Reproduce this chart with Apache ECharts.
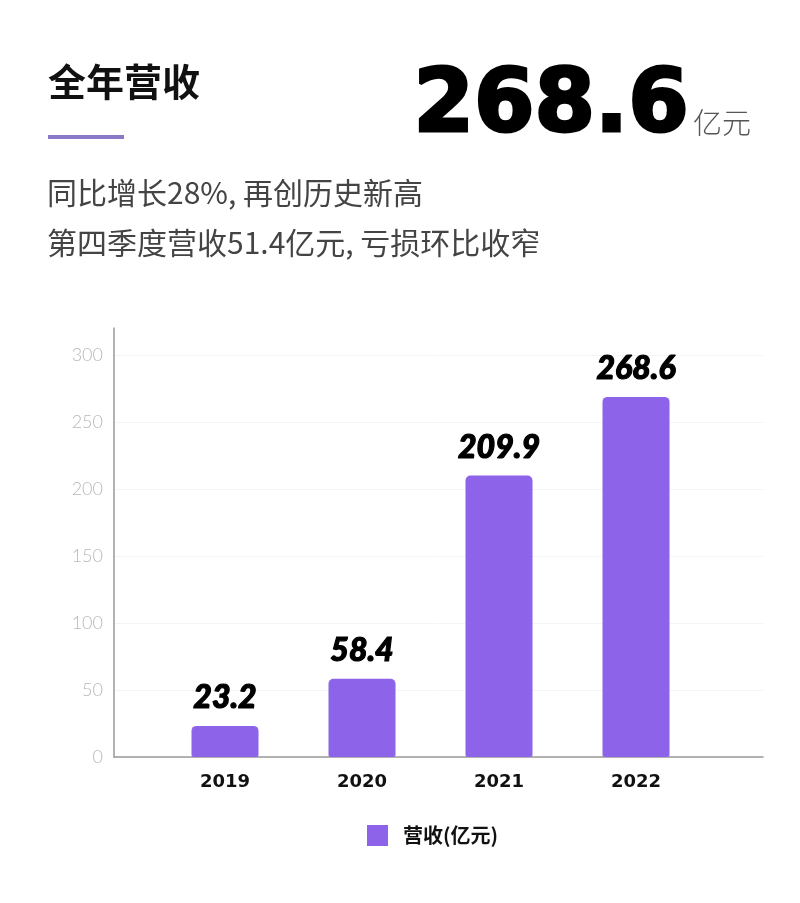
<!DOCTYPE html>
<html style="height: 100%">
<head>
    <meta charset="utf-8">
</head>
<body style="height: 100%; margin: 0; background: #fff">
    <div id="container" style="width: 800px; height: 903px"></div>
    <script type="text/javascript" src="https://cdn.jsdelivr.net/npm/echarts@6/dist/echarts.min.js"></script>
    <script type="text/javascript">
        var years = ['2019', '2020', '2021', '2022'];
        var revenue = [23.2, 58.4, 209.9, 268.6];
        var seriesName = '营收(亿元)';
        var yTicks = [0, 50, 100, 150, 200, 250, 300];

        var purple = '#8c63e9';
        var cjk = '"Noto Sans CJK SC", "Noto Sans", sans-serif';
        var num = 'Lato, "Noto Sans", sans-serif';
        var heavy = '"DejaVu Sans", sans-serif';

        var dom = document.getElementById('container');
        var myChart = echarts.init(dom);

        // two grids share one y scale: the frame grid carries the axes,
        // the inner grid carries the bars (bars do not start at the y axis)
        var gridTop = 328, gridBottom = 146;
        var option = {
            backgroundColor: '#fff',
            animation: false,
            graphic: [
                {
                    type: 'text', left: 48, top: 63,
                    style: { text: '全年营收', font: 'bold 38px ' + cjk, fill: '#111' }
                },
                {
                    type: 'rect', shape: { x: 48, y: 135, width: 76, height: 4 },
                    style: { fill: '#8b78c9' }
                },
                {
                    type: 'text', left: 412, top: 63,
                    style: {
                        text: String(revenue[revenue.length - 1]), font: 'bold 87px ' + heavy,
                        fill: '#000', stroke: '#000', lineWidth: 3
                    }
                },
                {
                    type: 'text', left: 693, top: 108,
                    style: { text: '亿元', font: '300 29px ' + cjk, fill: '#555' }
                },
                {
                    type: 'text', left: 47, top: 178,
                    style: { text: '同比增长28%, 再创历史新高', font: '30px ' + cjk, fill: '#444' }
                },
                {
                    type: 'text', left: 47, top: 228,
                    style: { text: '第四季度营收51.4亿元, 亏损环比收窄', font: '30px ' + cjk, fill: '#444' }
                }
            ],
            legend: {
                bottom: 52,
                left: 362,
                itemWidth: 21,
                itemHeight: 21,
                icon: 'rect',
                textStyle: { fontFamily: cjk, fontSize: 20, fontWeight: 'bold', color: '#111', padding: [0, 0, 0, 10] },
                data: [seriesName]
            },
            grid: [
                { left: 114, right: 37, top: gridTop, bottom: gridBottom },
                { left: 156.5, right: 95.5, top: gridTop, bottom: gridBottom }
            ],
            xAxis: [
                {
                    type: 'category', gridIndex: 0, data: [''],
                    axisLine: { lineStyle: { color: '#999', width: 1.5 } },
                    axisTick: { show: false }, axisLabel: { show: false }
                },
                {
                    type: 'category', gridIndex: 1, data: years,
                    axisLine: { show: false }, axisTick: { show: false },
                    axisLabel: { fontFamily: heavy, fontSize: 18, fontWeight: 'bold', color: '#111', margin: 16 }
                }
            ],
            yAxis: [
                {
                    type: 'value', gridIndex: 0, min: 0, max: 320, interval: 50,
                    axisLine: { show: true, lineStyle: { color: '#999', width: 1.5 } },
                    axisTick: { show: false },
                    axisLabel: {
                        fontFamily: num, fontSize: 18, fontWeight: 300, color: '#b8b8b8', margin: 11,
                        formatter: function (v) { return yTicks.indexOf(v) >= 0 ? v : ''; }
                    },
                    splitLine: { lineStyle: { color: ['#f4f4f4', '#f4f4f4', '#f4f4f4', '#f4f4f4', '#f4f4f4', '#f4f4f4', '#f4f4f4', 'rgba(0,0,0,0)'] } }
                },
                {
                    type: 'value', gridIndex: 1, min: 0, max: 320, interval: 50,
                    axisLine: { show: false }, axisTick: { show: false },
                    axisLabel: { show: false }, splitLine: { show: false }
                }
            ],
            series: [
                {
                    name: seriesName,
                    type: 'bar',
                    xAxisIndex: 1,
                    yAxisIndex: 1,
                    barWidth: 67,
                    itemStyle: { color: purple, borderRadius: [5, 5, 2, 2] },
                    label: {
                        show: true,
                        position: 'top',
                        distance: 12,
                        fontFamily: num,
                        fontSize: 32,
                        fontWeight: 900,
                        fontStyle: 'italic',
                        color: '#000',
                        textBorderColor: '#000',
                        textBorderWidth: 1.2
                    },
                    data: revenue
                }
            ]
        };
        myChart.setOption(option, true);
    </script>
</body>
</html>
